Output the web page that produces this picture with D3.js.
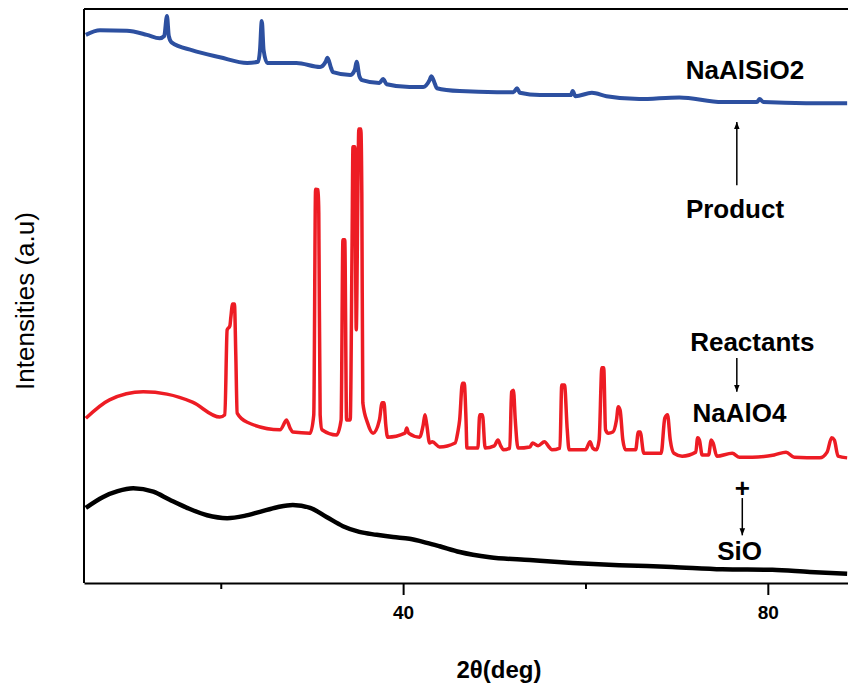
<!DOCTYPE html>
<html>
<head>
<meta charset="utf-8">
<script src="https://cdn.jsdelivr.net/npm/d3@7"></script>
<style>
  body { margin: 0; background: #fff; }
  svg { display: block; }
  text { font-family: "Liberation Sans", Arial, sans-serif; }
</style>
</head>
<body>
<div id="chart"></div>
<script>
// XRD patterns, [2theta (deg), intensity (a.u., offset stacked)]

// product (NaAlSiO2), blue
const productPattern = [
  [5.2, 955], [6.75, 963], [9.7, 962], [11.9, 955], [13.3, 949], [13.8, 953], [14.1, 988], [14.3, 953],
  [14.6, 942], [16.9, 928], [19.9, 916], [22.9, 906], [24.1, 908], [24.3, 928], [24.5, 979], [24.7, 928],
  [25.1, 906], [28.3, 906], [30.9, 899], [31.5, 908], [31.7, 915], [32.1, 897], [32.3, 890], [34.2, 885],
  [34.7, 894], [34.9, 908], [35.2, 883], [35.5, 876], [37.4, 871], [37.8, 878], [38.2, 869], [40.7, 864],
  [42.2, 864], [42.9, 876], [43.1, 883], [43.5, 869], [43.7, 862], [46.2, 857], [50.3, 855], [52.1, 855],
  [52.5, 862], [52.8, 854], [55.0, 850], [58.4, 850], [58.6, 857], [58.9, 848], [60.7, 854], [62.3, 848],
  [65.9, 843], [70.3, 846], [75.0, 838], [78.8, 838], [79.1, 843], [79.5, 838], [84.2, 836], [88.7, 836]
];

// reactant NaAlO4, red
const aluminatePattern = [
  [5.2, 287], [7.8, 319], [11.5, 333], [14.1, 329], [16.9, 315], [19.9, 289], [20.45, 293], [20.7, 441],
  [21.0, 448], [21.1, 462], [21.3, 486], [21.5, 486], [21.65, 397], [21.8, 296], [22.9, 280], [26.5, 267],
  [27.1, 282], [27.2, 284], [27.6, 270], [27.9, 263], [29.8, 261], [30.2, 293], [30.4, 686], [30.7, 685],
  [30.75, 645], [30.9, 293], [31.1, 267], [32.7, 258], [33.2, 284], [33.4, 598], [33.6, 598], [33.8, 284],
  [34.2, 284], [34.4, 589], [34.5, 760], [34.7, 760], [34.86, 441], [35.03, 667], [35.14, 791], [35.36, 791],
  [35.47, 679], [35.58, 314], [36.1, 279], [36.7, 261], [37.4, 284], [37.7, 314], [37.9, 314], [38.1, 275],
  [38.3, 254], [40.2, 261], [40.4, 270], [40.6, 261], [41.8, 254], [42.2, 275], [42.4, 293], [42.6, 275],
  [42.9, 244], [43.2, 246], [44.0, 237], [45.7, 244], [46.0, 263], [46.2, 284], [46.5, 348], [46.7, 348],
  [46.9, 284], [47.0, 235], [48.2, 235], [48.4, 293], [48.7, 293], [49.0, 235], [50.0, 239], [50.4, 249],
  [50.7, 239], [51.0, 232], [51.7, 235], [51.9, 333], [52.1, 336], [52.3, 284], [52.6, 235], [53.9, 237],
  [54.2, 244], [54.8, 239], [55.5, 246], [56.0, 237], [56.3, 232], [57.2, 235], [57.4, 345], [57.7, 345],
  [58.0, 267], [58.2, 232], [60.0, 232], [60.5, 246], [60.8, 235], [61.2, 232], [61.5, 249], [61.8, 375],
  [62.0, 375], [62.2, 267], [62.5, 261], [63.0, 263], [63.4, 284], [63.6, 307], [63.8, 301], [64.1, 249],
  [64.4, 232], [65.5, 232], [65.8, 263], [66.0, 263], [66.4, 226], [68.3, 226], [68.7, 287], [69.0, 293],
  [69.3, 249], [69.7, 226], [70.6, 221], [72.1, 228], [72.3, 253], [72.5, 249], [72.8, 223], [73.5, 223],
  [73.8, 249], [74.0, 244], [74.4, 221], [76.1, 226], [76.9, 219], [78.3, 219], [80.7, 223], [82.0, 228],
  [82.9, 219], [85.7, 218], [86.5, 228], [87.0, 253], [87.3, 249], [87.7, 221], [88.7, 218]
];

// reactant SiO, black
const siliconOxidePattern = [
  [5.2, 131], [7.1, 150], [8.7, 160], [10.4, 165], [12.6, 159], [14.4, 145], [16.3, 131], [18.5, 118],
  [20.7, 113], [22.6, 117], [24.3, 124], [26.2, 132], [27.9, 136], [29.8, 131], [31.6, 115], [33.4, 99],
  [35.2, 89], [37.1, 84], [38.9, 80], [40.7, 77], [42.6, 70], [44.0, 64], [46.2, 54], [49.5, 45],
  [53.9, 40], [58.6, 35], [63.7, 31], [69.5, 28], [75.0, 24], [80.5, 23], [84.6, 19], [88.7, 16]
];

const majorTicks = [40, 80];
const minorTicks = [20, 60];

// annotation text, positions in data units
const labels = [
  { text: "NaAlSiO2", t: 77.5, v: 878 },
  { text: "Product", t: 76.4, v: 636 },
  { text: "Reactants", t: 78.3, v: 404 },
  { text: "NaAlO4", t: 76.9, v: 280 },
  { text: "+", t: 77.2, v: 149 },
  { text: "SiO", t: 76.9, v: 40 }
];
// arrows: from -> to (tip)
const arrows = [
  { t: 76.6, from: 693, to: 803 },
  { t: 76.6, from: 392, to: 333 },
  { t: 77.2, from: 148, to: 83 }
];

const width = 848, height = 689;

const svg = d3.select("#chart")
  .append("svg")
  .attr("width", width)
  .attr("height", height);

const x = d3.scaleLinear().domain([5, 90]).range([84, 859]);
const y = d3.scaleLinear().domain([0, 1000]).range([583, 9]);

svg.append("defs").append("marker")
  .attr("id", "head")
  .attr("viewBox", "0 0 10 10")
  .attr("refX", 10).attr("refY", 5)
  .attr("markerWidth", 7).attr("markerHeight", 10)
  .attr("markerUnits", "userSpaceOnUse")
  .attr("orient", "auto")
  .append("path")
  .attr("d", "M0,1 L10,5 L0,9 Z")
  .attr("fill", "#000");

const line = d3.line()
  .curve(d3.curveMonotoneX)
  .x(d => x(d[0]))
  .y(d => y(d[1]));

const series = [
  { data: siliconOxidePattern, color: "#000000", w: 4.5 },
  { data: aluminatePattern, color: "#ed1c24", w: 3.5 },
  { data: productPattern, color: "#2d50a0", w: 4 }
];

svg.selectAll("path.trace")
  .data(series)
  .join("path")
  .attr("class", "trace")
  .attr("d", d => line(d.data))
  .attr("fill", "none")
  .attr("stroke", d => d.color)
  .attr("stroke-width", d => d.w)
  .attr("stroke-linejoin", "round");

// frame: left + top (right side runs off the picture)
svg.append("line")
  .attr("x1", x(5)).attr("x2", x(5))
  .attr("y1", y(1000)).attr("y2", y(0))
  .attr("stroke", "#000").attr("stroke-width", 2);
svg.append("line")
  .attr("x1", x(5)).attr("x2", width)
  .attr("y1", y(1000)).attr("y2", y(1000))
  .attr("stroke", "#000").attr("stroke-width", 2);

const xAxis = svg.append("g")
  .attr("transform", `translate(0,${y(0)})`)
  .call(d3.axisBottom(x).tickValues(majorTicks).tickSize(12).tickSizeOuter(0).tickPadding(11));
xAxis.select(".domain").attr("stroke-width", 2);
xAxis.selectAll(".tick line").attr("stroke-width", 2);
xAxis.selectAll(".tick text")
  .style("font-size", "19px")
  .style("font-weight", "bold")
  .attr("fill", "#000");

const minorAxis = svg.append("g")
  .attr("transform", `translate(0,${y(0)})`)
  .call(d3.axisBottom(x).tickValues(minorTicks).tickSize(6).tickSizeOuter(0).tickFormat(""));
minorAxis.select(".domain").remove();
minorAxis.selectAll(".tick line").attr("stroke-width", 2);

// axis titles
svg.append("text")
  .attr("x", 499)
  .attr("y", 678)
  .attr("text-anchor", "middle")
  .style("font-size", "24px")
  .style("font-weight", "bold")
  .text("2θ(deg)");

svg.append("text")
  .attr("transform", "translate(34,301) rotate(-90)")
  .attr("text-anchor", "middle")
  .style("font-size", "26px")
  .text("Intensities (a.u)");

// annotations
svg.selectAll("text.note")
  .data(labels)
  .join("text")
  .attr("class", "note")
  .attr("x", d => x(d.t))
  .attr("y", d => y(d.v))
  .attr("text-anchor", "middle")
  .style("font-size", "26px")
  .style("font-weight", "bold")
  .text(d => d.text);

svg.selectAll("line.arrow")
  .data(arrows)
  .join("line")
  .attr("class", "arrow")
  .attr("x1", d => x(d.t)).attr("x2", d => x(d.t))
  .attr("y1", d => y(d.from)).attr("y2", d => y(d.to))
  .attr("stroke", "#000")
  .attr("stroke-width", 1.5)
  .attr("marker-end", "url(#head)");
</script>
</body>
</html>
